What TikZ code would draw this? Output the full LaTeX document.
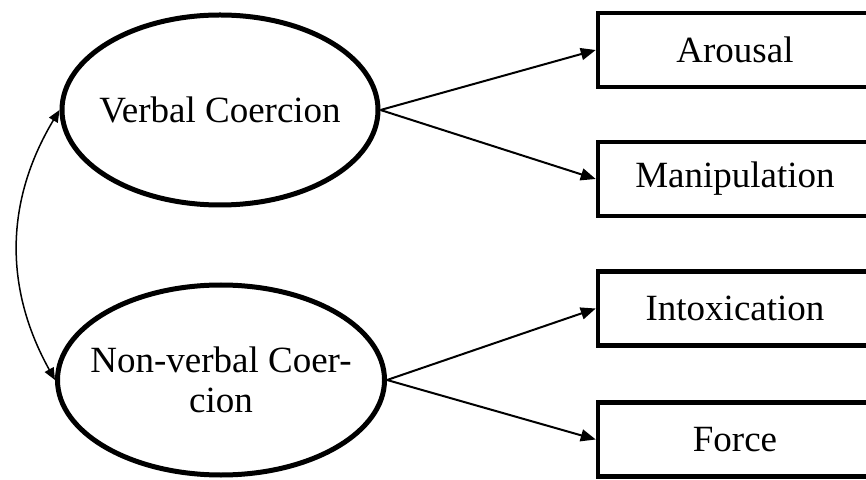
\documentclass[tikz,border=0pt]{standalone}
\usepackage{fontspec}
\setmainfont{Liberation Serif}
\usetikzlibrary{shapes.geometric,arrows.meta}

\begin{document}
\begin{tikzpicture}[x=1pt,y=1pt]
\tikzstyle{latent}=[ellipse, draw, line width=5pt, minimum width=316pt, minimum height=190pt, inner xsep=-15pt, inner ysep=0pt, align=center, font=\fontsize{37}{40}\selectfont]
\tikzstyle{indicator}=[rectangle, draw, line width=4.5pt, minimum width=274pt, minimum height=74pt, inner sep=0pt, font=\fontsize{37}{40}\selectfont]
\tikzstyle{load}=[line width=2pt, -{Triangle[length=15pt,width=12pt]}]
\tikzstyle{cov}=[line width=1.5pt, {Triangle[length=12pt,width=10pt]}-{Triangle[length=12pt,width=10pt]}]

\clip (0,0) rectangle (866,479);

\node[latent] (V) at (220,369) {Verbal Coercion};
\node[latent] (N) at (221,99) {Non-verbal Coer-\\cion};
\node[indicator] (A) at (735,429) {Arousal};
\node[indicator] (M) at (735,300) {Manipulation};
\node[indicator] (I) at (735,170.5) {Intoxication};
\node[indicator] (F) at (735,39.5) {Force};

\path
(V.east) edge[load] (A.west)
         edge[load] (M.west)
(N.east) edge[load] (I.west)
         edge[load] (F.west);
\draw[cov] (V.west) to[bend right=30] (N.west);
\end{tikzpicture}
\end{document}
